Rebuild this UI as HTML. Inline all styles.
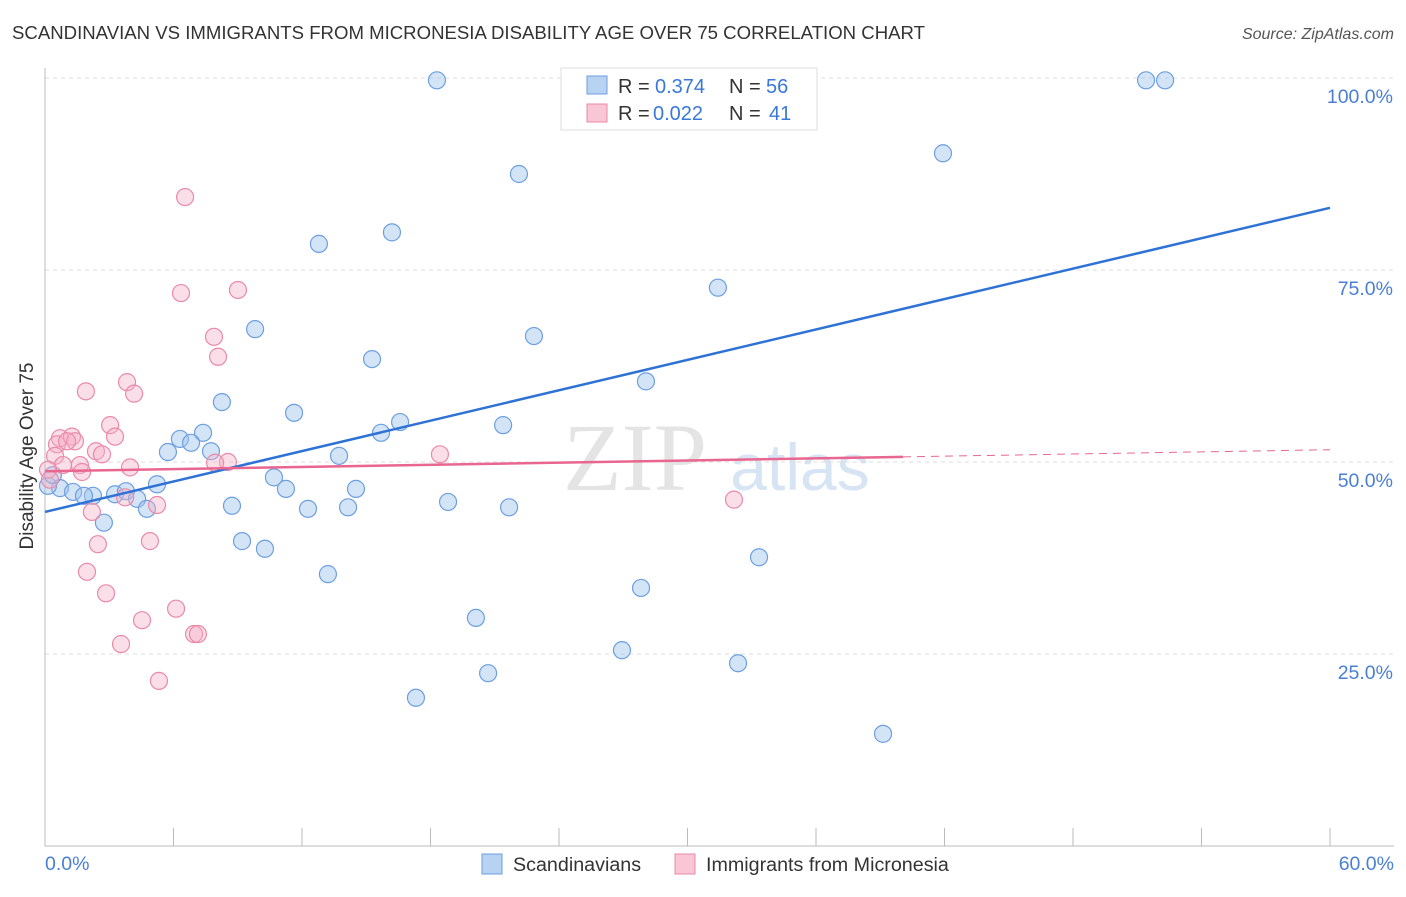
<!DOCTYPE html>
<html><head><meta charset="utf-8"><style>
body{margin:0;background:#fff;font-family:"Liberation Sans",sans-serif}
</style></head><body>
<svg width="1406" height="892" xmlns="http://www.w3.org/2000/svg">
<text x="12" y="39" font-size="18.6" fill="#333">SCANDINAVIAN VS IMMIGRANTS FROM MICRONESIA DISABILITY AGE OVER 75 CORRELATION CHART</text>
<text x="1394" y="39" font-size="16" fill="#555" font-style="italic" text-anchor="end">Source: ZipAtlas.com</text>
<text x="635" y="490" font-size="96" fill="#e4e4e4" font-family="Liberation Serif,serif" text-anchor="middle">ZIP</text>
<text x="800" y="490" font-size="66" fill="#d6e4f4" text-anchor="middle">atlas</text>
<g id="grid"></g>
<line x1="45" y1="68" x2="45" y2="846" stroke="#bbb"/>
<line x1="45" y1="846" x2="1394" y2="846" stroke="#bbb"/>
<text x="33" y="456" font-size="19" fill="#333" text-anchor="middle" transform="rotate(-90 33 456)">Disability Age Over 75</text>
<text x="45" y="870" font-size="19.5" fill="#4a7fd4">0.0%</text>
<text x="1394" y="870" font-size="19.5" fill="#4a7fd4" text-anchor="end">60.0%</text>
<g id="pts"></g>
<g id="lines"></g>
<rect x="561" y="68" width="256" height="62" fill="#fff" stroke="#ddd"/>
<rect x="587" y="76" width="20" height="18" fill="#b8d2f2" stroke="#6d9fe0"/>
<rect x="587" y="104" width="20" height="18" fill="#f8c6d4" stroke="#ea8aa7"/>
<g font-size="20" fill="#333">
<text x="618" y="93">R =</text>
<text x="655" y="93" fill="#3a78d8">0.374</text>
<text x="729" y="93">N =</text>
<text x="766" y="93" fill="#3a78d8">56</text>
<text x="618" y="120">R =</text>
<text x="653" y="120" fill="#3a78d8">0.022</text>
<text x="729" y="120">N =</text>
<text x="769" y="120" fill="#3a78d8">41</text>
</g>
<rect x="482" y="854" width="20" height="20" fill="#b8d2f2" stroke="#6d9fe0"/>
<text x="513" y="871" font-size="19.7" fill="#333">Scandinavians</text>
<rect x="675" y="854" width="20" height="20" fill="#f8c6d4" stroke="#ea8aa7"/>
<text x="706" y="871" font-size="19.7" fill="#333">Immigrants from Micronesia</text>
</svg>
<script>
const NS="http://www.w3.org/2000/svg";
const yTicks=[25,50,75,100];
const xTickCount=10;
const blueX=[18.30,51.41,52.30,25.73,27.41,41.93,22.13,16.20,12.79,31.42,9.81,22.83,15.27,28.06,8.26,11.63,16.58,21.39,15.69,7.38,6.30,6.82,5.74,7.75,13.73,10.69,5.23,11.25,14.52,0.70,0.14,1.31,2.24,1.82,3.27,3.78,4.30,4.76,8.73,12.28,14.15,18.82,21.67,2.75,9.20,10.27,13.21,33.34,27.83,20.12,26.94,32.36,20.69,17.32,39.13,0.37];
const blueY=[99.7,99.7,99.7,99.7,99.7,90.2,87.5,79.9,78.4,72.7,67.3,66.4,63.4,60.5,57.8,56.4,55.2,54.8,53.8,53.8,53.0,52.5,51.3,51.4,50.8,48.0,47.1,46.5,46.5,46.6,46.9,46.1,45.6,45.6,45.8,46.2,45.2,43.9,44.3,43.9,44.1,44.8,44.1,42.1,39.7,38.7,35.4,37.6,33.6,29.7,25.5,23.8,22.5,19.3,14.6,48.3];
const pinkX=[6.54,6.35,9.01,7.89,8.08,1.91,3.83,4.16,3.04,3.27,0.70,1.26,1.40,0.56,1.03,2.38,2.66,0.47,0.84,1.63,3.97,0.14,1.73,8.54,7.94,18.44,3.74,5.23,2.19,2.47,4.90,1.96,2.85,6.12,4.53,6.96,7.14,3.55,5.32,32.17,0.23];
const pinkY=[84.5,72.0,72.4,66.3,63.7,59.2,60.4,58.9,54.8,53.3,53.1,53.3,52.7,52.3,52.7,51.4,51.0,50.8,49.6,49.6,49.3,49.0,48.7,50.0,49.9,51.0,45.4,44.4,43.5,39.3,39.7,35.7,32.9,30.9,29.4,27.6,27.6,26.3,21.5,45.1,47.7];
const blueTrend=[43.5,83.1];   // y at x=0, y at x=60
const pinkTrend=[48.8,51.6];
const pinkSolidEnd=40.06;
const X=v=>45+v/60*1285, Y=v=>846-v/100*768;
const grid=document.getElementById('grid');
yTicks.forEach(t=>{
 const l=document.createElementNS(NS,'line');
 l.setAttribute('x1',45);l.setAttribute('x2',1394);l.setAttribute('y1',Y(t));l.setAttribute('y2',Y(t));
 l.setAttribute('stroke','#ddd');l.setAttribute('stroke-dasharray','4,4');
 
 
 grid.appendChild(l);
 const tx=document.createElementNS(NS,'text');
 tx.setAttribute('x',1393);tx.setAttribute('y',Y(t)+25);tx.setAttribute('text-anchor','end');
 tx.setAttribute('font-size','19.5');tx.setAttribute('fill','#4a7fd4');tx.textContent=t.toFixed(1)+'%';
 
 
 grid.appendChild(tx);
});
for(let i=1;i<=xTickCount;i++){
 const l=document.createElementNS(NS,'line');
 const x=X(i*6);
 l.setAttribute('x1',x);l.setAttribute('x2',x);l.setAttribute('y1',828);l.setAttribute('y2',846);
 l.setAttribute('stroke','#bbb');
 
 
 grid.appendChild(l);
}
const pts=document.getElementById('pts');
function dots(xs,ys,fill,stroke,name){
 xs.forEach((x,i)=>{
  const c=document.createElementNS(NS,'circle');
  c.setAttribute('cx',X(x));c.setAttribute('cy',Y(ys[i]));c.setAttribute('r',8.5);
  c.setAttribute('fill',fill);c.setAttribute('stroke',stroke);c.setAttribute('stroke-width','1.2');
  
  
  pts.appendChild(c);
 });
}
dots(blueX,blueY,'rgba(160,195,238,0.45)','#6d9fe0','point-scandinavian');
dots(pinkX,pinkY,'rgba(246,176,198,0.4)','#ea8aa7','point-micronesia');
const lines=document.getElementById('lines');
function ln(x1,y1,x2,y2,col,w,dash,name){
 const l=document.createElementNS(NS,'line');
 l.setAttribute('x1',X(x1));l.setAttribute('y1',Y(y1));l.setAttribute('x2',X(x2));l.setAttribute('y2',Y(y2));
 l.setAttribute('stroke',col);l.setAttribute('stroke-width',w);if(dash)l.setAttribute('stroke-dasharray',dash);
 
 
 lines.appendChild(l);
}
ln(0,blueTrend[0],60,blueTrend[1],'#2f72d6',2.5,null,'trend-scandinavians');
const pAt=x=>pinkTrend[0]+(pinkTrend[1]-pinkTrend[0])*x/60;
ln(0,pAt(0),pinkSolidEnd,pAt(pinkSolidEnd),'#e8668f',2.5,null,'trend-micronesia');
ln(pinkSolidEnd,pAt(pinkSolidEnd),60,pAt(60),'#e8668f',1,'8,6','trend-micronesia-extension');
</script>
</body></html>
